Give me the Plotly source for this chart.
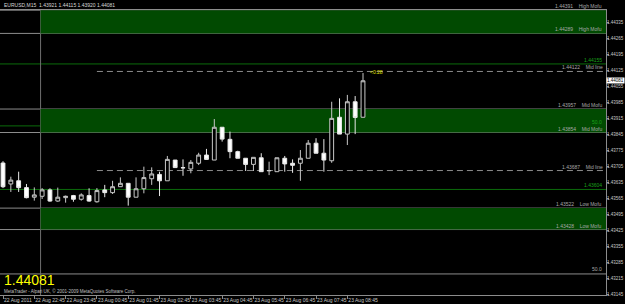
import pandas as pd
import plotly.graph_objects as go

symbol_title = "EURUSD,M15  1.43921 1.44115 1.43920 1.44081"
times = pd.date_range("2011-08-22 21:45", periods=47, freq="15min")

opens = [1.43720, 1.43628, 1.43642, 1.43612, 1.43570, 1.43574, 1.43602, 1.43553, 1.43568, 1.43577,
         1.43561, 1.43577, 1.43550, 1.43602, 1.43590, 1.43616, 1.43631, 1.43570, 1.43607, 1.43651,
         1.43670, 1.43642, 1.43733, 1.43700, 1.43694, 1.43719, 1.43755, 1.43733, 1.43877, 1.43824,
         1.43770, 1.43741, 1.43714, 1.43743, 1.43686, 1.43682, 1.43741, 1.43719, 1.43719, 1.43741,
         1.43807, 1.43763, 1.43730, 1.43921, 1.43847, 1.43989, 1.43921]
highs = [1.43728, 1.43660, 1.43682, 1.43628, 1.43613, 1.43610, 1.43609, 1.43612, 1.43577, 1.43580,
         1.43587, 1.43609, 1.43610, 1.43624, 1.43642, 1.43657, 1.43631, 1.43657, 1.43704, 1.43701,
         1.43682, 1.43751, 1.43733, 1.43736, 1.43733, 1.43765, 1.43782, 1.43913, 1.43877, 1.43858,
         1.43774, 1.43741, 1.43745, 1.43763, 1.43726, 1.43743, 1.43751, 1.43736, 1.43777, 1.43821,
         1.43829, 1.43825, 1.43989, 1.44004, 1.44019, 1.44014, 1.44115]
lows = [1.43610, 1.43593, 1.43593, 1.43565, 1.43555, 1.43562, 1.43550, 1.43550, 1.43546, 1.43550,
        1.43555, 1.43550, 1.43546, 1.43570, 1.43584, 1.43616, 1.43533, 1.43570, 1.43587, 1.43624,
        1.43575, 1.43642, 1.43699, 1.43664, 1.43675, 1.43711, 1.43736, 1.43733, 1.43814, 1.43741,
        1.43741, 1.43685, 1.43685, 1.43682, 1.43667, 1.43682, 1.43682, 1.43677, 1.43642, 1.43741,
        1.43763, 1.43682, 1.43721, 1.43847, 1.43799, 1.43847, 1.43920]
closes = [1.43616, 1.43645, 1.43612, 1.43568, 1.43580, 1.43602, 1.43553, 1.43570, 1.43574, 1.43561,
          1.43580, 1.43553, 1.43599, 1.43590, 1.43616, 1.43631, 1.43570, 1.43607, 1.43656, 1.43672,
          1.43642, 1.43736, 1.43700, 1.43699, 1.43723, 1.43755, 1.43736, 1.43877, 1.43825, 1.43770,
          1.43741, 1.43714, 1.43745, 1.43682, 1.43687, 1.43743, 1.43716, 1.43710, 1.43741, 1.43807,
          1.43763, 1.43733, 1.43916, 1.43847, 1.43989, 1.43920, 1.44081]

price_ticks = [1.44405, 1.44335, 1.44265, 1.44195, 1.44125, 1.44055, 1.43985, 1.43915, 1.43845,
               1.43775, 1.43705, 1.43635, 1.43565, 1.43495, 1.43425, 1.43355, 1.43285, 1.43215, 1.43145]
time_ticks = ["2011-08-22 21:45", "2011-08-22 22:45", "2011-08-22 23:45", "2011-08-23 00:45",
              "2011-08-23 01:45", "2011-08-23 02:45", "2011-08-23 03:45", "2011-08-23 04:45",
              "2011-08-23 05:45", "2011-08-23 06:45", "2011-08-23 07:45", "2011-08-23 08:45"]
time_labels = ["22 Aug 2011", "22 Aug 22:45", "22 Aug 23:45", "23 Aug 00:45", "23 Aug 01:45",
               "23 Aug 02:45", "23 Aug 03:45", "23 Aug 04:45", "23 Aug 05:45", "23 Aug 06:45",
               "23 Aug 07:45", "23 Aug 08:45"]

# zones: (top, bottom, name)
zones = [(1.44391, 1.44289, "High Mofu"), (1.43957, 1.43854, "Mid Mofu"), (1.43522, 1.43428, "Low Mofu")]
mid_lines = [(1.44122, "Mid line"), (1.43687, "Mid line")]
green_levels = [1.44155, 1.43604]
fib_green = 1.43883
fib_gray = 1.43233
bid = 1.44081
order_label = "#29174274 buy"
timer_text = "<0:28"
zone_start = "2011-08-22 22:57"
mid_start = "2011-08-23 00:45"

GRAY = "#8c8c8c"
LBL = "#a8a8a8"
FILL = "#014a01"
GREEN_LINE = "#0b6b0b"
GREEN_TXT = "#19a319"
FONT = "Liberation Sans"

fig = go.Figure()
fig.add_trace(go.Candlestick(
    x=times, open=opens, high=highs, low=lows, close=closes,
    increasing=dict(line=dict(color="#c8c8c8", width=1), fillcolor="#000000"),
    decreasing=dict(line=dict(color="#e8e8e8", width=1), fillcolor="#ffffff"),
    whiskerwidth=0, hoverinfo="skip", showlegend=False,
))

shapes = []
ann = []
for top, bot, name in zones:
    shapes.append(dict(type="rect", xref="x", yref="y", x0=zone_start, x1="2011-08-25",
                       y0=bot, y1=top, fillcolor=FILL, line=dict(width=0), layer="below"))
    for v in (top, bot):
        shapes.append(dict(type="line", xref="paper", yref="y", x0=0, x1=1, y0=v, y1=v,
                           line=dict(color=GRAY, width=1), layer="below"))
        ann.append(dict(xref="paper", yref="y", x=0.996, y=v, xanchor="right", yanchor="bottom",
                        text=f"{v:.5f}    {name}", showarrow=False, yshift=-1,
                        font=dict(family=FONT, size=5, color=LBL)))

for v, name in mid_lines:
    shapes.append(dict(type="line", xref="x", yref="y", x0=mid_start, x1="2011-08-25", y0=v, y1=v,
                       line=dict(color=GRAY, width=1, dash="6px,4px"), layer="below"))
    ann.append(dict(xref="paper", yref="y", x=0.998, y=v, xanchor="right", yanchor="bottom",
                    text=f"{v:.5f}    {name}", showarrow=False, yshift=-1,
                    font=dict(family=FONT, size=5, color=LBL)))

for v in green_levels:
    shapes.append(dict(type="line", xref="paper", yref="y", x0=0, x1=1, y0=v, y1=v,
                       line=dict(color=GREEN_LINE, width=1), layer="below"))
    ann.append(dict(xref="paper", yref="y", x=0.996, y=v, xanchor="right", yanchor="bottom",
                    text=f"{v:.5f}", showarrow=False, yshift=-1,
                    font=dict(family=FONT, size=5, color=GREEN_TXT)))

shapes.append(dict(type="line", xref="paper", yref="y", x0=0, x1=1, y0=fib_green, y1=fib_green,
                   line=dict(color=GREEN_LINE, width=1), layer="below"))
ann.append(dict(xref="paper", yref="y", x=0.996, y=fib_green, xanchor="right", yanchor="bottom",
                text="50.0", showarrow=False, yshift=-1, font=dict(family=FONT, size=5, color=GREEN_TXT)))
shapes.append(dict(type="line", xref="paper", yref="y", x0=0, x1=1, y0=fib_gray, y1=fib_gray,
                   line=dict(color=GRAY, width=1), layer="below"))
ann.append(dict(xref="paper", yref="y", x=0.996, y=fib_gray, xanchor="right", yanchor="bottom",
                text="50.0", showarrow=False, yshift=0, font=dict(family=FONT, size=5, color=LBL)))

# period separator
shapes.append(dict(type="line", xref="x", yref="paper", x0=zone_start, x1=zone_start, y0=0, y1=1,
                   line=dict(color="#6e6e6e", width=1), layer="below"))

# price scale labels (right side)
for v in price_ticks:
    ann.append(dict(xref="paper", yref="y", x=1.0, y=v, xanchor="left", yanchor="middle",
                    text=f"{v:.5f}", showarrow=False, xshift=0, borderpad=0,
                    font=dict(family=FONT, size=4.5, color="#c8c8c8")))

ann.append(dict(xref="paper", yref="x domain" if False else "y", x=1.0, y=bid, xanchor="left", yanchor="middle",
                text=f"{bid:.5f}", showarrow=False, xshift=0, bgcolor="#ffffff", borderpad=0,
                font=dict(family=FONT, size=4.5, color="#000000")))
ann.append(dict(xref="x", yref="y", x=times[-1], y=1.44120, xanchor="left", yanchor="middle",
                text=timer_text, showarrow=False, xshift=5, font=dict(family=FONT, size=5, color="#e6e600")))
ann.append(dict(xref="paper", yref="paper", x=0.004, y=0.0, xanchor="left", yanchor="bottom",
                text=f"{bid:.5f}", showarrow=False, yshift=5,
                font=dict(family=FONT, size=14, color="#ffff00")))
ann.append(dict(xref="paper", yref="paper", x=0.004, y=0.0, xanchor="left", yanchor="bottom",
                text="MetaTrader - Alpari UK, © 2001-2009 MetaQuotes Software Corp.", showarrow=False,
                yshift=-1, font=dict(family=FONT, size=4.5, color="#c0c0c0")))
ann.append(dict(xref="paper", yref="paper", x=0.003, y=1.0, xanchor="left", yanchor="bottom",
                text=symbol_title, showarrow=False, yshift=0,
                font=dict(family=FONT, size=5, color="#d8d8d8")))

fig.update_layout(
    width=625, height=304, margin=dict(l=0, r=19, t=10, b=9, autoexpand=False),
    paper_bgcolor="#000000", plot_bgcolor="#000000",
    shapes=shapes, annotations=ann, showlegend=False,
    xaxis=dict(type="date", range=["2011-08-22 21:39:15", "2011-08-23 17:00:45"],
               rangeslider=dict(visible=False), showgrid=False, zeroline=False, automargin=False,
               tickvals=time_ticks, ticktext=time_labels, ticklabelposition="outside right",
               tickangle=0, ticks="outside", ticklen=3, tickcolor=GRAY, showline=True,
               linecolor=GRAY, mirror=True,
               tickfont=dict(family=FONT, size=5, color="#c8c8c8")),
    yaxis=dict(side="right", range=[1.431406, 1.443918], showgrid=False, zeroline=False, automargin=False,
               tickvals=price_ticks, showticklabels=False,
               ticks="outside", ticklen=2, tickcolor=GRAY, showline=True, linecolor=GRAY, mirror=True),
)
fig.write_html("out.html")
